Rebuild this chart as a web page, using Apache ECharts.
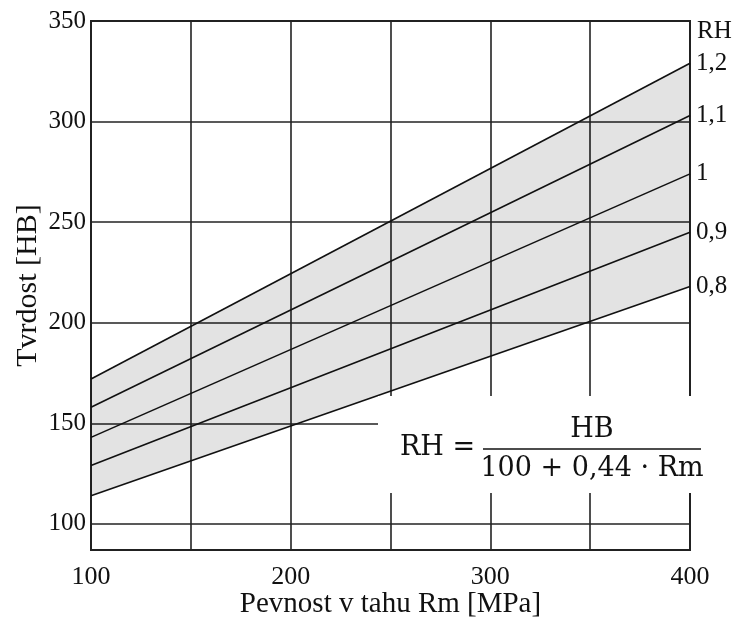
<!DOCTYPE html>
<html lang="cs">
<head>
  <meta charset="utf-8">
  <title>Tvrdost vs. pevnost v tahu</title>
  <script src="https://fastly.jsdelivr.net/npm/echarts@6.0.0/dist/echarts.min.js"></script>
  <style>
    * { margin: 0; padding: 0; }
    #chart { width: 734px; height: 619px; background: #fff; }
  </style>
</head>
<body>
  <div id="chart"></div>
  <script>
    // Rm [MPa] at the two ends of each line
    var rm = [100, 400];
    // HB values for every RH line
    var rh12 = [172, 329];
    var rh11 = [158, 303];
    var rh10 = [143, 274];
    var rh09 = [129, 245];
    var rh08 = [114, 218];
    var rhNames = ['1,2', '1,1', '1', '0,9', '0,8'];
    var rhLines = [rh12, rh11, rh10, rh09, rh08];
    var yLabels = [100, 150, 200, 250, 300, 350];
    var xLabels = [100, 200, 300, 400];

    var serif = '"Liberation Serif", "Times New Roman", serif';
    var chart = echarts.init(document.getElementById('chart'), null, { renderer: 'canvas' });

    function pairs(vals) {
      return rm.map(function (x, i) { return [x, vals[i]]; });
    }

    var series = [
      // grey band between RH 0,8 and RH 1,2
      {
        type: 'custom', silent: true, z: 1,
        data: rm.map(function (x, i) { return [x, rh12[i], rh08[i]]; }),
        encode: { x: 0, y: [1, 2] },
        renderItem: function (params, api) {
          if (params.dataIndex !== 0) return null;
          var top = rm.map(function (x, i) { return api.coord([x, rh12[i]]); });
          var bottom = rm.map(function (x, i) { return api.coord([x, rh08[i]]); }).reverse();
          return {
            type: 'polygon',
            shape: { points: top.concat(bottom) },
            style: { fill: 'rgba(0,0,0,0.11)' }
          };
        }
      }
    ];

    rhLines.forEach(function (vals, k) {
      series.push({
        type: 'line', name: rhNames[k], data: pairs(vals), symbol: 'none', z: 3,
        lineStyle: { color: '#111', width: 1.6 },
        endLabel: {
          show: true, formatter: '{a}', distance: 6,
          fontFamily: serif, fontSize: 25, color: '#111'
        }
      });
    });

    var option = {
      animation: false,
      backgroundColor: '#fff',
      grid: {
        left: 91, right: 44, top: 21, bottom: 69,
        outerBoundsMode: 'none', containLabel: false,
        show: true, borderColor: '#222', borderWidth: 2
      },
      xAxis: {
        type: 'value', min: 100, max: 400, interval: 50,
        name: 'Pevnost v tahu Rm [MPa]', nameLocation: 'middle', nameGap: 40,
        nameMoveOverlap: false,
        nameTextStyle: { fontFamily: serif, fontSize: 29, color: '#111' },
        axisLine: { show: false },
        axisTick: { show: false },
        axisLabel: {
          fontFamily: serif, fontSize: 26, color: '#111', margin: 14,
          formatter: function (v) { return xLabels.indexOf(v) >= 0 ? String(v) : ''; }
        },
        splitLine: { lineStyle: { color: '#222', width: 1.6 } }
      },
      yAxis: {
        type: 'value', min: 87, max: 350, splitNumber: 5,
        name: 'Tvrdost [HB]', nameLocation: 'middle', nameGap: 48,
        nameMoveOverlap: false,
        nameTextStyle: { fontFamily: serif, fontSize: 30, color: '#111' },
        axisLine: { show: false },
        axisTick: { show: false },
        axisLabel: {
          fontFamily: serif, fontSize: 25, color: '#111', margin: 5,
          showMinLabel: false,
          formatter: function (v) { return yLabels.indexOf(v) >= 0 ? String(v) : ''; }
        },
        splitLine: { lineStyle: { color: '#222', width: 1.6 } }
      },
      series: series,
      graphic: [
        {
          type: 'text', left: 697, top: 19, z: 10,
          style: { text: 'RH', font: '25px ' + serif, fill: '#111' }
        },
        // white box holding the formula
        {
          type: 'rect', shape: { x: 378, y: 396, width: 320, height: 97 },
          style: { fill: '#fff' }, z: 100
        },
        {
          type: 'text', z: 101, x: 400, y: 448,
          style: { text: 'RH =', font: '27px "DejaVu Serif", serif', fill: '#111', verticalAlign: 'middle' }
        },
        {
          type: 'text', z: 101, x: 592, y: 443,
          style: { text: 'HB', font: '27px "DejaVu Serif", serif', fill: '#111', align: 'center', verticalAlign: 'bottom' }
        },
        {
          type: 'line', z: 101, shape: { x1: 483, y1: 449, x2: 701, y2: 449 },
          style: { stroke: '#111', lineWidth: 1.6 }
        },
        {
          type: 'text', z: 101, x: 592, y: 455,
          style: { text: '100 + 0,44 \u00b7 Rm', font: '27px "DejaVu Serif", serif', fill: '#111', align: 'center', verticalAlign: 'top' }
        }
      ]
    };

    chart.setOption(option);
    window.addEventListener('resize', chart.resize);
  </script>
</body>
</html>
